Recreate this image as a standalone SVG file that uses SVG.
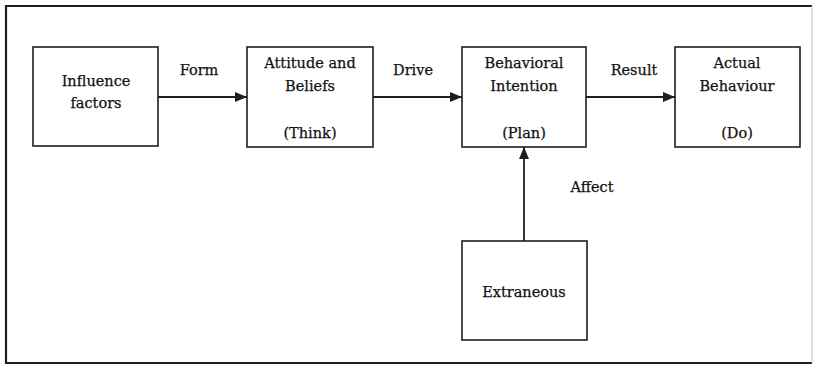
<svg xmlns="http://www.w3.org/2000/svg" width="814" height="365" viewBox="0 0 814 365">
  <style>
    .box { fill: #ffffff; stroke: #1e1e1e; stroke-width: 1.6; }
    .lbl { font-family: "DejaVu Serif", "Liberation Serif", serif; font-size: 14.5px; fill: #111111; stroke: #111111; stroke-width: 0.25; text-anchor: middle; }
    .edge { stroke: #1e1e1e; stroke-width: 1.8; fill: none; marker-end: url(#head); }
  </style>
  <defs>
    <marker id="head" viewBox="0 0 12 10" refX="12" refY="5" markerWidth="12" markerHeight="10" markerUnits="userSpaceOnUse" orient="auto">
      <path d="M0,0 L12,5 L0,10 Z" fill="#1e1e1e"/>
    </marker>
  </defs>

  <rect width="814" height="365" fill="#ffffff"/>

  <!-- outer frame -->
  <g id="frame" fill="none">
    <path d="M812,6 L6,6 L6,363 L812,363" stroke="#1e1e1e" stroke-width="2.2"/>
    <path d="M812,6 L812,363" stroke="#c8c8c8" stroke-width="1.2"/>
  </g>

  <g id="influence">
    <rect class="box" x="33" y="47" width="125" height="99"/>
    <text class="lbl" x="96" y="86">Influence</text>
    <text class="lbl" x="96" y="108">factors</text>
  </g>

  <g id="attitude">
    <rect class="box" x="247" y="47" width="126" height="100"/>
    <text class="lbl" x="310" y="68">Attitude and</text>
    <text class="lbl" x="310" y="91">Beliefs</text>
    <text class="lbl" x="310" y="138">(Think)</text>
  </g>

  <g id="intention">
    <rect class="box" x="462" y="47" width="124" height="100"/>
    <text class="lbl" x="524" y="68">Behavioral</text>
    <text class="lbl" x="524" y="91">Intention</text>
    <text class="lbl" x="524" y="138">(Plan)</text>
  </g>

  <g id="behaviour">
    <rect class="box" x="675" y="47" width="125" height="100"/>
    <text class="lbl" x="737" y="68">Actual</text>
    <text class="lbl" x="737" y="91">Behaviour</text>
    <text class="lbl" x="737" y="138">(Do)</text>
  </g>

  <g id="extraneous">
    <rect class="box" x="462" y="241" width="125" height="99"/>
    <text class="lbl" x="524" y="297">Extraneous</text>
  </g>

  <g id="connectors">
    <line class="edge" x1="158" y1="97" x2="247" y2="97"/>
    <text class="lbl" x="199" y="75">Form</text>
    <line class="edge" x1="373" y1="97" x2="462" y2="97"/>
    <text class="lbl" x="413" y="75">Drive</text>
    <line class="edge" x1="586" y1="97" x2="675" y2="97"/>
    <text class="lbl" x="634" y="75">Result</text>
    <line class="edge" x1="524" y1="241" x2="524" y2="147"/>
    <text class="lbl" x="592" y="192">Affect</text>
  </g>
</svg>
